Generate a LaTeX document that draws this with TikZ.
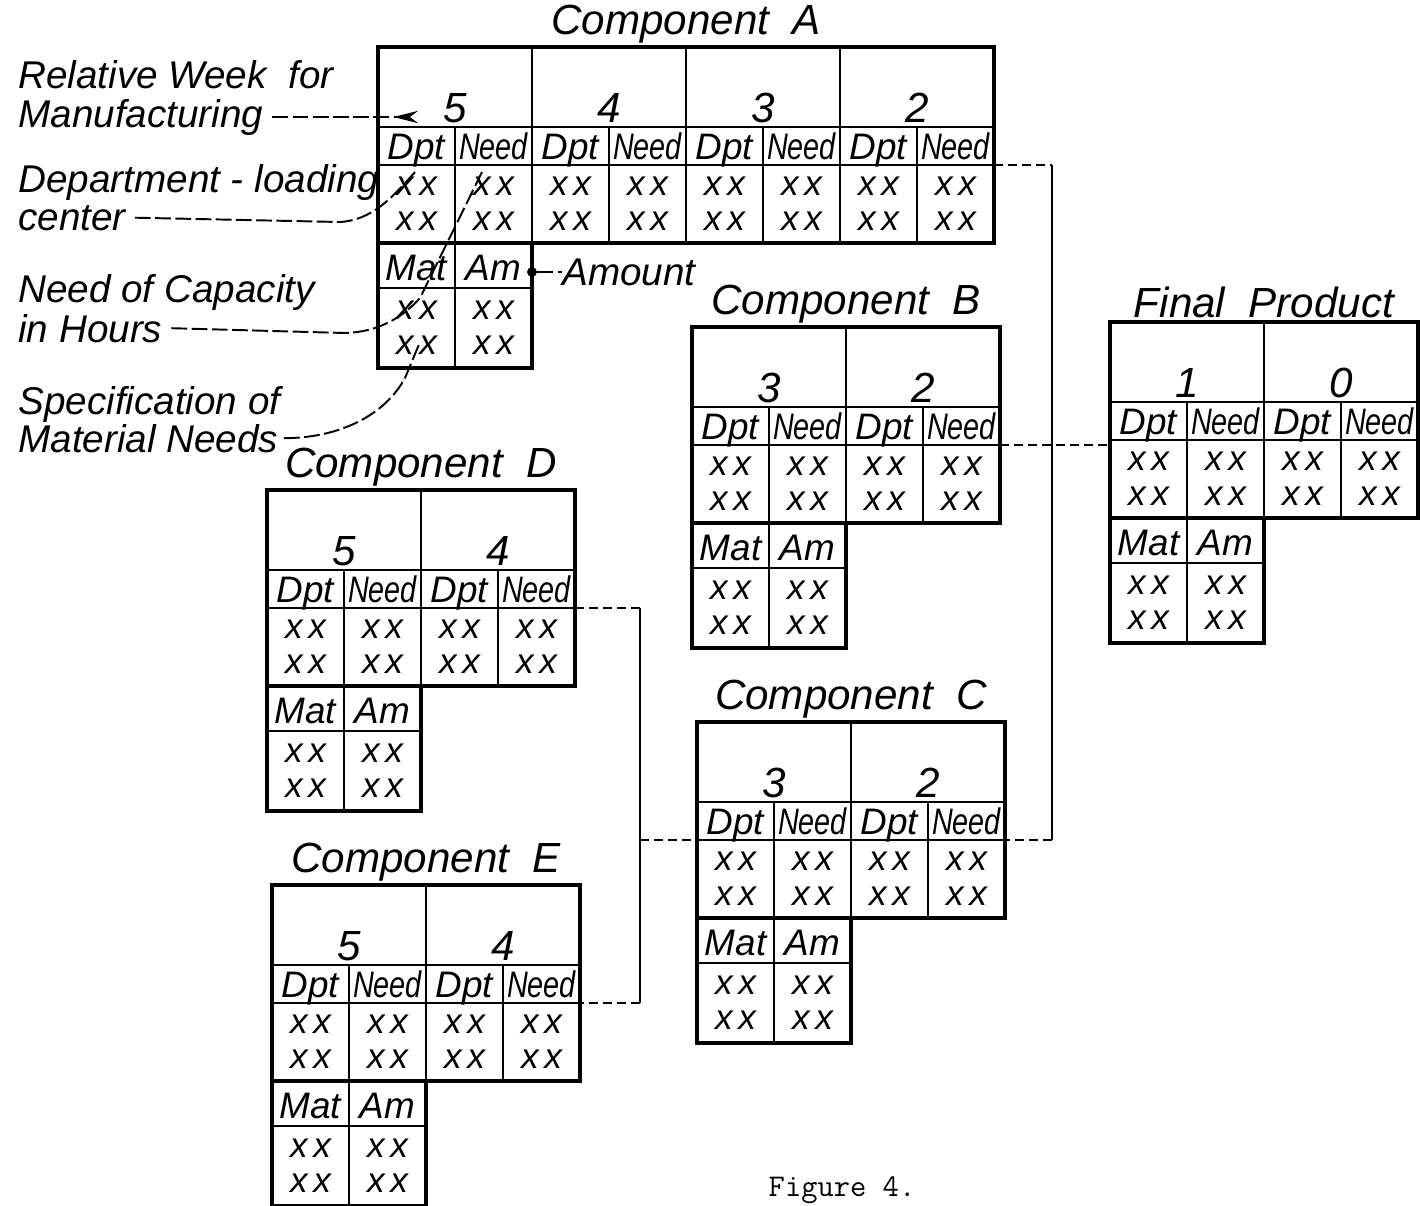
\documentclass[tikz,border=0pt]{standalone}
\usepackage{fontspec}
\setmainfont{Liberation Sans}
\usetikzlibrary{arrows.meta}

% one planning table: name, x, y (top left), title, relative weeks
\newcommand{\comptab}[5]{%
  \begin{scope}[shift={(#2,#3)}]
    \foreach \wk [count=\k from 0] in {#5} {
      \node[num] (#1-w\wk) at (154*\k+77,61) {\wk};
      \node[head] at (154*\k+38.5,112) {Dpt};
      \node[head, xscale=.78] at (154*\k+115.5,112) {Need};
      \node[xxcell] at (154*\k+38.5,157) {x\,x\\x\,x};
      \node[xxcell] at (154*\k+115.5,157) {x\,x\\x\,x};
      \draw[tabline] (154*\k+77,80) -- (154*\k+77,196);
      \ifnum\k>0 \draw[tabline] (154*\k,0) -- (154*\k,196); \fi
      \xdef\wcount{\k}
    }
    \pgfmathsetmacro\W{154*(\wcount+1)}
    \draw[tabline] (0,80) -- (\W,80) (0,118) -- (\W,118)
      (0,241) -- (154,241) (77,196) -- (77,321);
    \draw[tabframe] (0,0) rectangle (\W,196);
    \draw[tabframe] (0,196) rectangle (154,321);
    \node[head] at (38.5,233) {Mat};
    \node[head] at (115.5,233) {Am};
    \node[xxcell] at (38.5,281) {x\,x\\x\,x};
    \node[xxcell] at (115.5,281) {x\,x\\x\,x};
    \coordinate (#1-in) at (0,118);
    \coordinate (#1-out) at (\W,118);
    \node[comptitle] (#1-title) at (\W/2,-2) {#4};
  \end{scope}
}

\begin{document}
\begin{tikzpicture}[x=0.02cm, y=-0.02cm,
    tabframe/.style={line width=2pt},
    tabline/.style={line width=1.5pt},
    cell/.style={font=\fontsize{20}{20}\selectfont\itshape, inner sep=0pt},
    head/.style={font=\fontsize{21}{21}\selectfont\itshape, inner sep=0pt, anchor=base},
    xxcell/.style={cell, align=center},
    num/.style={font=\fontsize{24}{24}\selectfont\itshape, inner sep=0pt},
    comptitle/.style={font=\fontsize{24}{24}\selectfont\itshape, inner sep=1pt, anchor=south},
    note/.style={font=\fontsize{22}{22}\selectfont\itshape, inner sep=0pt, anchor=base west},
    leader/.style={line width=1.1pt, dash pattern=on 9pt off 2.5pt},
    link/.style={line width=1.1pt, dash pattern=on 5pt off 3pt},
    bus/.style={line width=1.3pt},
    dot/.style={circle, fill, inner sep=2pt}
  ]
  \useasboundingbox (0,0) rectangle (1421,1205);

  \comptab{A}{378}{47}{Component\ \ A}{5,4,3,2}
  \comptab{B}{692}{327}{Component\ \ B}{3,2}
  \comptab{F}{1110}{322}{Final\ \ Product}{1,0}
  \comptab{D}{267}{490}{Component\ \ D}{5,4}
  \comptab{C}{697}{722}{Component\ \ C}{3,2}
  \comptab{E}{272}{885}{Component\ \ E}{5,4}

  % flow of components into the final product
  \coordinate (busR) at (1052,0);
  \coordinate (busL) at (640,0);
  \draw[link] (A-out) -- (A-out -| busR);
  \draw[bus] (A-out -| busR) -- (C-out -| busR);
  \draw[link] (C-out -| busR) -- (C-out);
  \draw[link] (B-out) -- (B-out -| F-in);
  \draw[link] (D-out) -- (D-out -| busL);
  \draw[bus] (D-out -| busL) -- (E-out -| busL);
  \draw[link] (E-out -| busL) -- (E-out);
  \draw[link] (C-in -| busL) -- (C-in);

  % explanations
  \node[note] (week1) at (18,88) {Relative Week\ \ for};
  \node[note] (week2) at (18,127) {Manufacturing};
  \node[note] (dept1) at (18,192) {Department - loading};
  \node[note] (dept2) at (18,230) {center};
  \node[note] (need1) at (18,302) {Need of Capacity};
  \node[note] (need2) at (18,342) {in Hours};
  \node[note] (spec1) at (18,414) {Specification of};
  \node[note] (spec2) at (18,452) {Material Needs};

  \coordinate (weekpt) at (418,117);
  \coordinate (dptpt) at (415,172);
  \coordinate (needpt) at (482,172);
  \coordinate (matpt) at (420,342);

  \draw[leader, -{Stealth[reversed, length=14pt, width=7pt]}] ([xshift=5pt]week2.east) -- (weekpt |- week2.east);
  \draw[leader] ([xshift=5pt]dept2.east) -- (340,222) .. controls (372,220) and (392,198) .. (dptpt);
  \draw[leader] ([xshift=5pt]need2.east) -- (345,333) .. controls (378,332) and (402,318) .. (420,298) -- (needpt);
  \draw[leader] ([xshift=3pt]spec2.east) .. controls (340,438) and (385,415) .. (405,378) -- (matpt);

  \node[dot] (amdot) at (532,272) {};
  \node[note, anchor=west] (amount) at (562,272) {Amount};
  \draw[leader] (amdot) -- (amount.west);

  \node[font=\fontsize{18}{18}\selectfont\ttfamily] (fig) at (842,1190) {Figure 4.};
\end{tikzpicture}
\end{document}
